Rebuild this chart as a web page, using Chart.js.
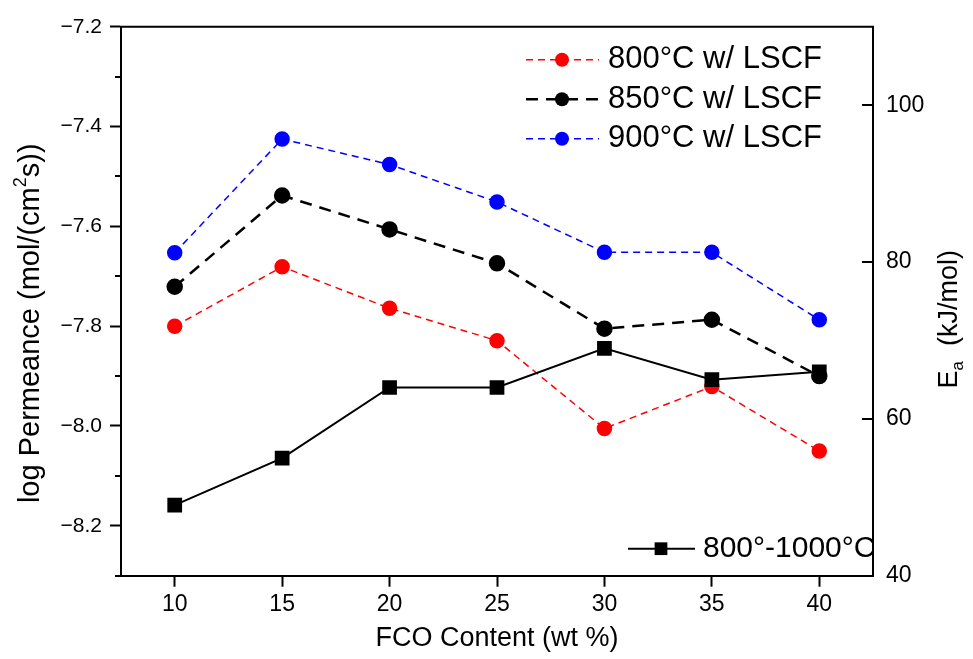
<!DOCTYPE html>
<html>
<head>
<meta charset="utf-8">
<title>Permeance and activation energy vs FCO content</title>
<script src="https://cdn.jsdelivr.net/npm/chart.js@4.4.1/dist/chart.umd.min.js"></script>
<style>
  body { margin: 0; background: #fff; }
  .chart-box { width: 973px; height: 659px; position: relative; }
</style>
</head>
<body>
<div class="chart-box"><canvas id="permChart"></canvas></div>
<script>
// FCO content (wt %)
var fcoContent = [10, 15, 20, 25, 30, 35, 40];

// log permeance, mol/(cm2 s)
var perm800 = [-7.800, -7.681, -7.764, -7.829, -8.005, -7.921, -8.050];
var perm850 = [-7.721, -7.538, -7.606, -7.674, -7.805, -7.787, -7.900];
var perm900 = [-7.653, -7.425, -7.476, -7.551, -7.652, -7.652, -7.787];

// activation energy 800-1000 C, kJ/mol
var activationEnergy = [49.0, 55.0, 64.0, 64.0, 69.0, 65.0, 66.0];

// tick labels
var fcoTicks = [10, 15, 20, 25, 30, 35, 40];
var permTicks = [-8.2, -8.0, -7.8, -7.6, -7.4, -7.2];
var permMinorTicks = [-8.3, -8.1, -7.9, -7.7, -7.5, -7.3];
var eaTicks = [40, 60, 80, 100];

var FONT = '"Liberation Sans", Arial, Helvetica, sans-serif';

Chart.defaults.font.family = FONT;
Chart.defaults.color = '#000';

function points(values) {
  return fcoContent.map(function (x, i) { return { x: x, y: values[i] }; });
}

function fixedTicks(list) {
  return function (axis) {
    axis.ticks = list.map(function (v) { return { value: v }; });
  };
}

// frame, minor ticks, inward ticks on the E_a axis
var framePlugin = {
  id: 'frame',
  afterDraw: function (chart) {
    var ctx = chart.ctx;
    var a = chart.chartArea;
    ctx.save();
    ctx.strokeStyle = '#000';
    ctx.lineWidth = 2;
    ctx.beginPath();
    ctx.moveTo(a.left - 1, a.top);
    ctx.lineTo(a.right, a.top);
    ctx.lineTo(a.right, a.bottom + 1);
    ctx.stroke();

    var y = chart.scales.y;
    permMinorTicks.forEach(function (v) {
      var py = Math.round(y.getPixelForValue(v));
      ctx.beginPath();
      ctx.moveTo(a.left - 6, py);
      ctx.lineTo(a.left, py);
      ctx.stroke();
    });

    var y1 = chart.scales.y1;
    eaTicks.forEach(function (v) {
      var py = Math.round(y1.getPixelForValue(v));
      ctx.beginPath();
      ctx.moveTo(a.right - 11, py);
      ctx.lineTo(a.right, py);
      ctx.stroke();
    });
    ctx.restore();
  }
};

function drawMarker(ctx, ds, x, y) {
  ctx.fillStyle = ds.pointBackgroundColor;
  if (ds.pointStyle === 'rect') {
    var s = ds.pointRadius * Math.SQRT1_2;
    ctx.fillRect(x - s, y - s, 2 * s, 2 * s);
  } else {
    ctx.beginPath();
    ctx.arc(x, y, ds.pointRadius, 0, Math.PI * 2);
    ctx.fill();
  }
}

function drawLegendRow(ctx, ds, x0, x1, xm, xt, y) {
  ctx.strokeStyle = ds.borderColor;
  ctx.lineWidth = ds.borderWidth;
  ctx.setLineDash(ds.borderDash || []);
  ctx.beginPath();
  ctx.moveTo(x0, y);
  ctx.lineTo(x1, y);
  ctx.stroke();
  ctx.setLineDash([]);
  drawMarker(ctx, ds, xm, y);
  ctx.fillStyle = '#000';
  ctx.fillText(ds.label, xt, y);
}

// two legends inside the plot: permeance top right, E_a bottom right
var legendPlugin = {
  id: 'insetLegends',
  afterDraw: function (chart) {
    var ctx = chart.ctx;
    var a = chart.chartArea;
    var row = 0;
    ctx.save();
    ctx.font = '31px ' + FONT;
    ctx.textBaseline = 'middle';
    ctx.textAlign = 'left';
    chart.data.datasets.forEach(function (ds) {
      if (ds.yAxisID === 'y') {
        var y = a.top + 33 + row * 39.5;
        drawLegendRow(ctx, ds, a.right - 347, a.right - 274, a.right - 311, a.right - 265, y);
        row++;
      } else {
        ctx.font = '30px ' + FONT;
        drawLegendRow(ctx, ds, a.right - 245, a.right - 178, a.right - 212, a.right - 170, a.bottom - 27);
      }
    });
    ctx.restore();
  }
};

// rotated y titles with super/subscripts
function drawRich(ctx, parts, size) {
  var total = 0;
  parts.forEach(function (p) {
    ctx.font = (p.small ? size * 0.62 : size) + 'px ' + FONT;
    p.w = ctx.measureText(p.text).width;
    total += p.w;
  });
  var x = -total / 2;
  parts.forEach(function (p) {
    ctx.font = (p.small ? size * 0.62 : size) + 'px ' + FONT;
    ctx.fillText(p.text, x, p.shift || 0);
    x += p.w;
  });
}

var titlePlugin = {
  id: 'yTitles',
  afterDraw: function (chart) {
    var ctx = chart.ctx;
    var a = chart.chartArea;
    var mid = (a.top + a.bottom) / 2;
    ctx.save();
    ctx.fillStyle = '#000';
    ctx.textBaseline = 'middle';
    ctx.textAlign = 'left';

    ctx.save();
    ctx.translate(31, mid + 22);
    ctx.rotate(-Math.PI / 2);
    drawRich(ctx, [
      { text: 'log Permeance (mol/(cm' },
      { text: '2', small: true, shift: -10 },
      { text: 's))' }
    ], 29);
    ctx.restore();

    ctx.save();
    ctx.translate(950, mid + 18);
    ctx.rotate(-Math.PI / 2);
    drawRich(ctx, [
      { text: 'E' },
      { text: 'a', small: true, shift: 8 },
      { text: '  (kJ/mol)' }
    ], 27);
    ctx.restore();

    ctx.restore();
  }
};

var ctx = document.getElementById('permChart');
var permChart = new Chart(ctx, {
  type: 'line',
  data: {
    datasets: [{
      label: '800°C w/ LSCF',
      data: points(perm800),
      yAxisID: 'y',
      borderColor: '#ff0000',
      backgroundColor: '#ff0000',
      pointBackgroundColor: '#ff0000',
      borderWidth: 1.5,
      borderDash: [7, 5],
      pointStyle: 'circle',
      pointRadius: 7,
      order: 1
    },
    {
      label: '850°C w/ LSCF',
      data: points(perm850),
      yAxisID: 'y',
      borderColor: '#000000',
      backgroundColor: '#000000',
      pointBackgroundColor: '#000000',
      borderWidth: 2.5,
      borderDash: [12, 8],
      pointStyle: 'circle',
      pointRadius: 7,
      order: 1
    },
    {
      label: '900°C w/ LSCF',
      data: points(perm900),
      yAxisID: 'y',
      borderColor: '#0000ff',
      backgroundColor: '#0000ff',
      pointBackgroundColor: '#0000ff',
      borderWidth: 1.5,
      borderDash: [7, 5],
      pointStyle: 'circle',
      pointRadius: 7,
      order: 1
    },
    {
      label: '800°-1000°C',
      data: points(activationEnergy),
      yAxisID: 'y1',
      borderColor: '#000000',
      backgroundColor: '#000000',
      pointBackgroundColor: '#000000',
      borderWidth: 2,
      pointStyle: 'rect',
      pointRadius: 9,
      order: 0
    }]
  },
  options: {
    responsive: true,
    maintainAspectRatio: false,
    animation: false,
    layout: { padding: { top: 22, left: 0, right: 0, bottom: 0 } },
    plugins: {
      legend: { display: false },
      tooltip: { enabled: false }
    },
    elements: {
      line: { tension: 0, fill: false },
      point: { borderWidth: 0 }
    },
    scales: {
      x: {
        type: 'linear',
        position: 'bottom',
        min: 7.5,
        max: 42.5,
        afterBuildTicks: fixedTicks(fcoTicks),
        afterFit: function (s) { s.height = 83.3; },
        grid: { drawOnChartArea: false, tickLength: 11, tickWidth: 2, tickColor: '#000' },
        border: { color: '#000', width: 2 },
        ticks: { font: { size: 23 }, padding: 4, maxRotation: 0, color: '#000' },
        title: {
          display: true,
          text: 'FCO Content (wt %)',
          font: { size: 27 },
          color: '#000',
          padding: { top: 0, bottom: 4 }
        }
      },
      y: {
        type: 'linear',
        position: 'left',
        min: -8.3,
        max: -7.2,
        afterBuildTicks: fixedTicks(permTicks),
        afterFit: function (s) { s.width = 121; },
        grid: { drawOnChartArea: false, tickLength: 11, tickWidth: 2, tickColor: '#000' },
        border: { color: '#000', width: 2 },
        ticks: {
          font: { size: 21 },
          padding: 8,
          color: '#000',
          callback: function (v) { return (v < 0 ? '\u2212' : '') + Math.abs(v).toFixed(1); }
        }
      },
      y1: {
        type: 'linear',
        position: 'right',
        min: 40,
        max: 110,
        afterBuildTicks: fixedTicks(eaTicks),
        afterFit: function (s) { s.width = 100; },
        grid: { drawOnChartArea: false, drawTicks: false },
        border: { color: '#000', width: 2 },
        ticks: { font: { size: 23 }, padding: 13, color: '#000' }
      }
    }
  },
  plugins: [framePlugin, legendPlugin, titlePlugin]
});
</script>
</body>
</html>
